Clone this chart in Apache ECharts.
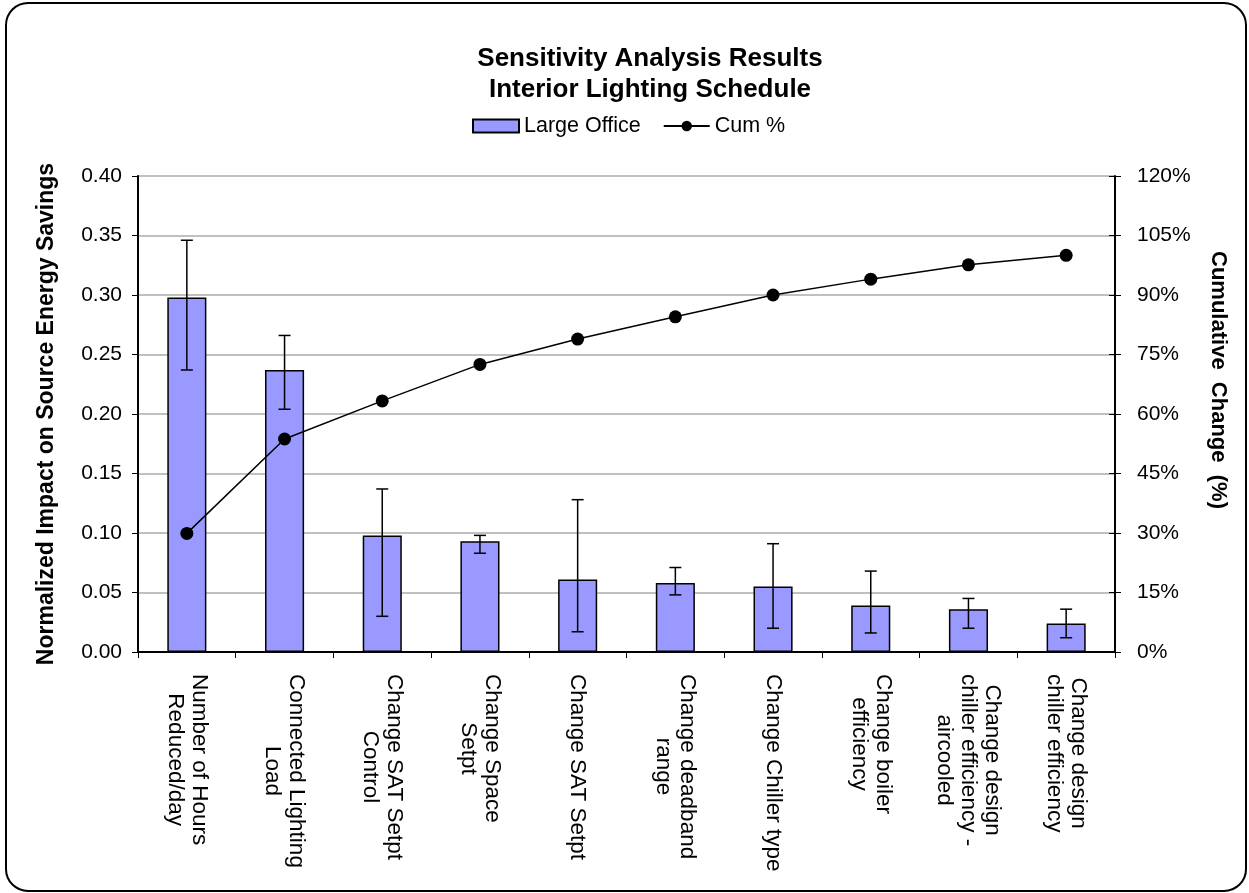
<!DOCTYPE html>
<html>
<head>
<meta charset="utf-8">
<script src="https://cdn.jsdelivr.net/npm/echarts@6/dist/echarts.min.js"></script>
<style>
  html, body { margin: 0; padding: 0; background: #fff; }
  #chart { width: 1249px; height: 893px; }
</style>
</head>
<body>
<div id="chart"></div>
<script>
// categories (line breaks as in the source chart)
const categories = [
  'Number of Hours\nReduced/day',
  'Connected Lighting\nLoad',
  'Change SAT Setpt\nControl',
  'Change Space\nSetpt',
  'Change SAT Setpt',
  'Change deadband\nrange',
  'Change Chiller type',
  'Change boiler\nefficiency',
  'Change design\nchiller efficiency -\naircooled',
  'Change design\nchiller efficiency'
]

// Large Office bars + error range
const barValues = [0.298, 0.237, 0.098, 0.093, 0.061, 0.058, 0.055, 0.039, 0.036, 0.024]
const errHigh = [0.346, 0.266, 0.137, 0.098, 0.128, 0.071, 0.091, 0.068, 0.045, 0.036]
const errLow = [0.237, 0.204, 0.030, 0.083, 0.017, 0.048, 0.020, 0.016, 0.020, 0.012]

// cumulative %
const cumPct = [29.9, 53.7, 63.3, 72.5, 78.9, 84.5, 90.0, 94.0, 97.6, 100]

const FONT = '"Liberation Sans", Arial, sans-serif'
const XFONT_SIZE = 22.5

// pad the shorter lines of each label so the lines sit centred on each other
const ctx = document.createElement('canvas').getContext('2d')
ctx.font = XFONT_SIZE + 'px "Liberation Sans"'
const labelRich = {}
categories.forEach((c, i) => {
  const lines = c.split('\n')
  const widths = lines.map((s) => ctx.measureText(s).width)
  const maxW = Math.max(...widths)
  lines.forEach((s, j) => {
    labelRich['l' + i + '_' + j] = {
      padding: [0, 0, 0, (maxW - widths[j]) / 2],
      fontSize: XFONT_SIZE,
      lineHeight: 24,
      fontFamily: FONT,
      color: '#000'
    }
  })
})

const chart = echarts.init(document.getElementById('chart'))

chart.setOption({
  animation: false,
  textStyle: { fontFamily: FONT, color: '#000' },
  title: {
    text: 'Sensitivity Analysis Results\nInterior Lighting Schedule',
    left: 645,
    textAlign: 'center',
    top: 38,
    textStyle: { fontFamily: FONT, fontSize: 26, fontWeight: 'bold', lineHeight: 31, color: '#000' }
  },
  legend: {
    top: 110,
    left: 467,
    itemGap: 22,
    itemWidth: 46,
    itemHeight: 13,
    textStyle: { fontFamily: FONT, fontSize: 21.5, color: '#000' },
    data: [
      { name: 'Large Office', icon: 'rect' },
      { name: 'Cum %' }
    ]
  },
  graphic: [{
    type: 'rect',
    shape: { x: 6, y: 3, width: 1240, height: 888, r: 22 },
    style: { fill: 'none', stroke: '#000', lineWidth: 2 },
    silent: true,
    z: -1
  }],
  grid: { left: 138, right: 134, top: 176, bottom: 241 },
  xAxis: {
    type: 'category',
    data: categories,
    axisLine: { lineStyle: { color: '#000', width: 2 } },
    axisTick: { show: true, length: 6, lineStyle: { color: '#000' } },
    axisLabel: {
      rotate: -90,
      margin: 22,
      interval: 0,
      color: '#000',
      fontFamily: FONT,
      fontSize: XFONT_SIZE,
      lineHeight: 24,
      formatter: (v, i) => v.split('\n').map((s, j) => '{l' + i + '_' + j + '|' + s + '}').join('\n'),
      rich: labelRich
    }
  },
  yAxis: [
    {
      type: 'value',
      min: 0,
      max: 0.4,
      interval: 0.05,
      name: 'Normalized Impact on Source Energy Savings',
      nameLocation: 'middle',
      nameGap: 80,
      nameTextStyle: { fontFamily: FONT, fontSize: 23, fontWeight: 'bold', color: '#000' },
      axisLine: { show: true, lineStyle: { color: '#000', width: 2 } },
      axisTick: { show: true, length: 6, lineStyle: { color: '#000' } },
      axisLabel: {
        color: '#000', fontFamily: FONT, fontSize: 21, margin: 16,
        formatter: (v) => v.toFixed(2)
      },
      splitLine: { lineStyle: { color: '#c0c0c0', width: 2 } }
    },
    {
      type: 'value',
      min: 0,
      max: 120,
      interval: 15,
      position: 'right',
      name: 'Cumulative  Change  (%)',
      nameLocation: 'middle',
      nameRotate: -90,
      nameGap: 92,
      nameTextStyle: {
        fontFamily: FONT, fontSize: 22, fontWeight: 'bold', color: '#000',
        padding: [0, 68, 0, 0]
      },
      axisLine: { show: true, lineStyle: { color: '#000', width: 2 } },
      axisTick: { show: true, length: 6, lineStyle: { color: '#000' } },
      axisLabel: { color: '#000', fontFamily: FONT, fontSize: 21, margin: 22, formatter: '{value}%' },
      splitLine: { show: false }
    },
    {
      // inner half of the crossing ticks on the right axis
      type: 'value',
      min: 0,
      max: 120,
      interval: 15,
      position: 'right',
      axisLine: { show: false },
      axisTick: { show: true, inside: true, length: 6, lineStyle: { color: '#000' } },
      axisLabel: { show: false },
      splitLine: { show: false }
    }
  ],
  series: [
    {
      name: 'Large Office',
      type: 'bar',
      data: barValues,
      barWidth: '40%',
      itemStyle: { color: '#9999ff', borderColor: '#000', borderWidth: 1.5 },
      z: 2
    },
    {
      name: 'error',
      type: 'custom',
      data: categories.map((c, i) => [i, errLow[i], errHigh[i]]),
      z: 3,
      renderItem: (params, api) => {
        const lo = api.coord([api.value(0), api.value(1)])
        const hi = api.coord([api.value(0), api.value(2)])
        const w = 6
        const st = { stroke: '#000', lineWidth: 1.5 }
        return {
          type: 'group',
          children: [
            { type: 'line', shape: { x1: hi[0], y1: hi[1], x2: lo[0], y2: lo[1] }, style: st },
            { type: 'line', shape: { x1: hi[0] - w, y1: hi[1], x2: hi[0] + w, y2: hi[1] }, style: st },
            { type: 'line', shape: { x1: lo[0] - w, y1: lo[1], x2: lo[0] + w, y2: lo[1] }, style: st }
          ]
        }
      }
    },
    {
      name: 'Cum %',
      type: 'line',
      yAxisIndex: 1,
      data: cumPct,
      symbol: 'circle',
      symbolSize: 13,
      lineStyle: { color: '#000', width: 1.5 },
      itemStyle: { color: '#000' },
      z: 4
    }
  ]
})
</script>
</body>
</html>
